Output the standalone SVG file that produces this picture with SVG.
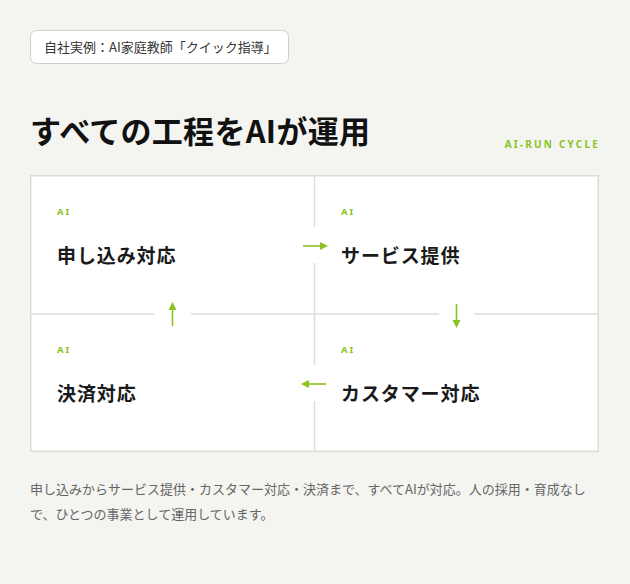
<svg xmlns="http://www.w3.org/2000/svg" width="630" height="584" viewBox="0 0 630 584">
<defs>
<style>
.bg{fill:#f4f4f0}
.jp{font-family:"Noto Sans CJK JP","Noto Sans",sans-serif}
.ai{font-family:"Noto Sans","Noto Sans CJK JP",sans-serif;font-size:9.5px;font-weight:700;fill:#8cc21f;letter-spacing:2px}
.ttl{font-size:19px;font-weight:700;fill:#1a1a1a;letter-spacing:0.9px}
.div{stroke:#dcdcd8;stroke-width:1.5;fill:none}
.arr{stroke:#8cc21f;stroke-width:1.6;fill:none}
.ah{fill:#8cc21f}
</style>
</defs>
<rect class="bg" x="0" y="0" width="630" height="584"/>
<g id="badge">
<rect x="30.5" y="30.5" width="258" height="33" rx="6" fill="#ffffff" stroke="#cfcfcb" stroke-width="1"/>
<text class="jp" x="44" y="52" font-size="13" fill="#333333">自社実例：AI家庭教師「クイック指導」</text>
</g>
<text class="jp" x="30" y="143" font-size="31" font-weight="700" fill="#111111" letter-spacing="0.3">すべての工程をAIが運用</text>
<text x="600" y="148" text-anchor="end" font-family="'Noto Sans',sans-serif" font-size="10" font-weight="700" fill="#8cc21f" letter-spacing="2.2">AI-RUN CYCLE</text>
<rect x="30.75" y="175.75" width="567.5" height="275.5" fill="#ffffff" stroke="#dcdcd8" stroke-width="1.5"/>
<g id="dividers">
<line class="div" x1="314.5" y1="176" x2="314.5" y2="227"/>
<line class="div" x1="314.5" y1="263" x2="314.5" y2="365"/>
<line class="div" x1="314.5" y1="401" x2="314.5" y2="451"/>
<line class="div" x1="31" y1="314" x2="154" y2="314"/>
<line class="div" x1="191" y1="314" x2="439" y2="314"/>
<line class="div" x1="474" y1="314" x2="598" y2="314"/>
</g>
<g id="node-apply">
<text class="ai" x="57" y="215">AI</text>
<text class="jp ttl" x="57" y="263">申し込み対応</text>
</g>
<g id="node-service">
<text class="ai" x="341" y="215">AI</text>
<text class="jp ttl" x="341" y="263">サービス提供</text>
</g>
<g id="node-customer">
<text class="ai" x="341" y="353">AI</text>
<text class="jp ttl" x="341" y="401">カスタマー対応</text>
</g>
<g id="node-payment">
<text class="ai" x="57" y="353">AI</text>
<text class="jp ttl" x="57" y="401">決済対応</text>
</g>
<g id="connectors">
<line class="arr" x1="303" y1="246" x2="322" y2="246"/>
<polygon class="ah" points="328,246 320,242 320,250"/>
<line class="arr" x1="456.5" y1="304" x2="456.5" y2="322"/>
<polygon class="ah" points="456.5,328 452.5,320 460.5,320"/>
<line class="arr" x1="326" y1="384" x2="307" y2="384"/>
<polygon class="ah" points="301,384 309,380 309,388"/>
<line class="arr" x1="172.5" y1="326" x2="172.5" y2="308"/>
<polygon class="ah" points="172.5,302 168.5,310 176.5,310"/>
</g>
<g id="caption" class="jp" font-size="13" fill="#666666">
<text x="30" y="494">申し込みからサービス提供・カスタマー対応・決済まで、すべてAIが対応。人の採用・育成なし</text>
<text x="30" y="519">で、ひとつの事業として運用しています。</text>
</g>
</svg>
